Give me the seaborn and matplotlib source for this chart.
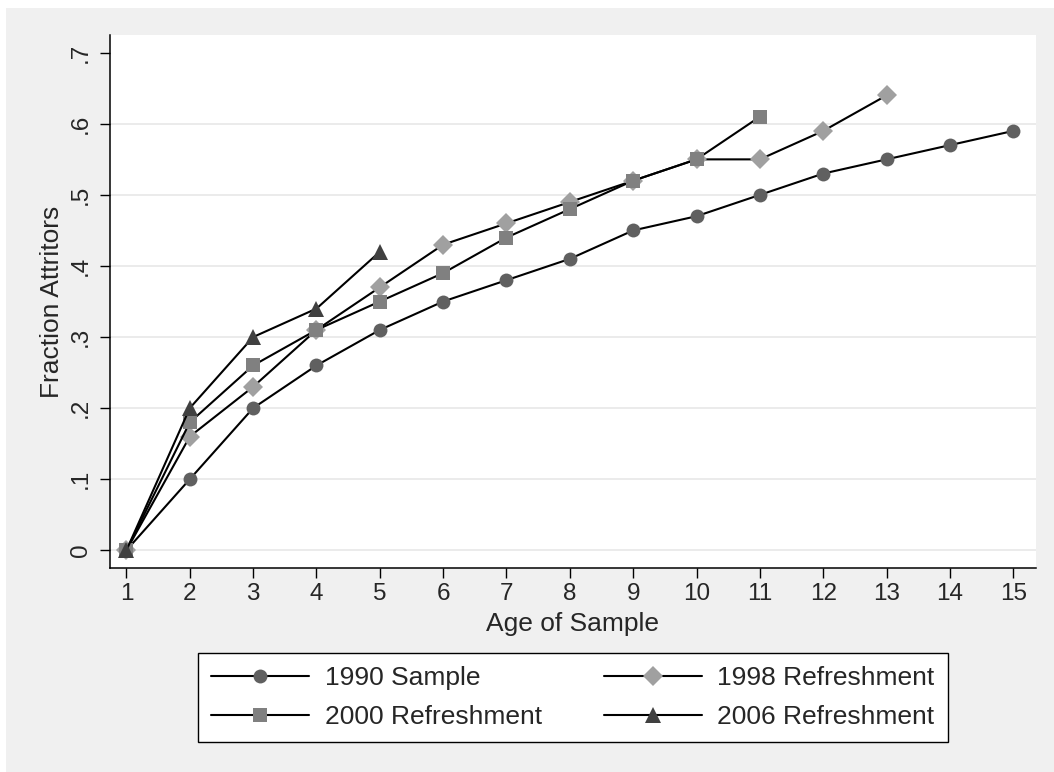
import numpy as np
import matplotlib
matplotlib.use("Agg")
import matplotlib.pyplot as plt
import seaborn as sns
from matplotlib.patches import Rectangle

# data
ages = list(range(1, 16))
s1990 = [0, .10, .20, .26, .31, .35, .38, .41, .45, .47, .50, .53, .55, .57, .59]
s1998 = [0, .16, .23, .31, .37, .43, .46, .49, .52, .55, .55, .59, .64]
s2000 = [0, .18, .26, .31, .35, .39, .44, .48, .52, .55, .61]
s2006 = [0, .20, .30, .34, .42]
labels = ['1990 Sample', '1998 Refreshment', '2000 Refreshment', '2006 Refreshment']
yticks = [0, .1, .2, .3, .4, .5, .6, .7]
ytick_labels = ['0', '.1', '.2', '.3', '.4', '.5', '.6', '.7']

sns.set_style('white')
plt.rcParams['font.family'] = ['Liberation Sans', 'DejaVu Sans']

fig = plt.figure(figsize=(10.54, 7.72), dpi=100, facecolor='white')
# gray graph region (stata style)
fig.patches.append(Rectangle((6 / 1054, 0), 1, 1 - 8 / 772, transform=fig.transFigure,
                             facecolor='#F0F0F0', edgecolor='none', zorder=-10))
ax = fig.add_axes([110 / 1054, 1 - 568 / 772, (1036 - 110) / 1054, (568 - 35) / 772])
ax.set_facecolor('white')

for yv in yticks[:-1]:
    ax.axhline(yv, color='#E8E8E8', linewidth=1.2, zorder=0)

styles = [('o', '#606060', 10), ('D', '#A0A0A0', 10), ('s', '#808080', 9.5), ('^', '#404040', 11.5)]
series = [s1990, s1998, s2000, s2006]
handles = []
for vals, lab, (mk, col, ms) in zip(series, labels, styles):
    sns.lineplot(x=ages[:len(vals)], y=vals, ax=ax, color='black', linewidth=1.5,
                 marker=mk, markersize=ms, markerfacecolor=col, markeredgecolor=col,
                 markeredgewidth=0, label=lab, legend=False)
    handles.append(ax.lines[-1])

ax.set_xlim(0.74, 15.36)
ax.set_ylim(-0.025, 0.725)
ax.set_xticks(ages)
ax.set_yticks(yticks)
ax.set_yticklabels(ytick_labels, rotation=90, va='center')
ax.tick_params(axis='both', length=7, width=1, color='black', labelsize=17.5, pad=4,
               left=True, bottom=True)
ax.tick_params(axis='y', pad=6)
for side in ['top', 'right']:
    ax.spines[side].set_visible(False)
for side in ['left', 'bottom']:
    ax.spines[side].set_color('black')
    ax.spines[side].set_linewidth(1.1)

ax.set_xlabel('Age of Sample', fontsize=19, labelpad=5)
ax.set_ylabel('Fraction Attritors', fontsize=19, labelpad=4)

order = [0, 2, 1, 3]
leg = fig.legend([handles[i] for i in order], [labels[i] for i in order],
                 loc='center', bbox_to_anchor=(573 / 1054, 1 - 697.5 / 772), ncol=2,
                 fontsize=19, frameon=True, fancybox=False, framealpha=1, handlelength=3.7,
                 handletextpad=0.6, columnspacing=2.35, labelspacing=0.58, borderpad=0.5)
leg.get_frame().set_edgecolor('black')
leg.get_frame().set_linewidth(1.0)
leg.get_frame().set_facecolor('white')

fig.savefig('out.png', dpi=100, facecolor=fig.get_facecolor())
